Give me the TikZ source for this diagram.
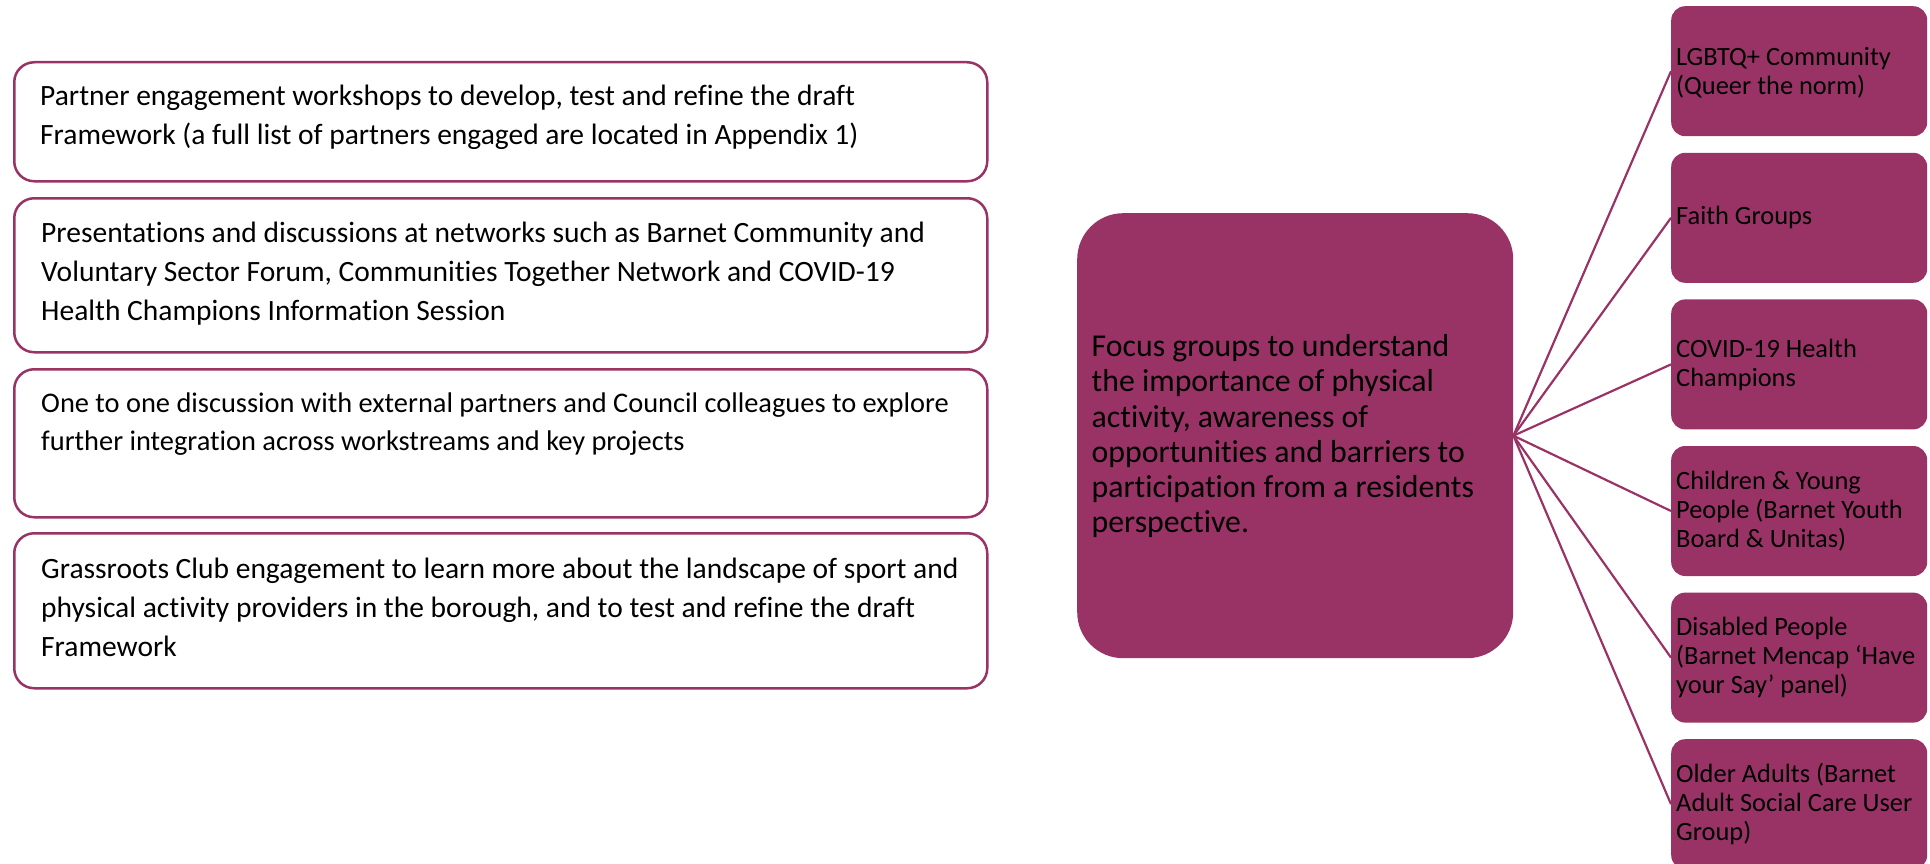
\documentclass[tikz,border=0pt]{standalone}
\usepackage{fontspec}
\setmainfont{Carlito}[Ligatures={NoCommon}]
\usetikzlibrary{calc}
\definecolor{plum}{RGB}{153,51,102}
\newcommand\natsp{\spaceskip=0pt\xspaceskip=0pt\relax}
\begin{document}
\begin{tikzpicture}[x=1pt,y=-1pt,
  lbox/.style={draw=plum, line width=2.5pt, rounded corners=20pt, fill=white, inner sep=0pt, anchor=north west, minimum width=973pt},
  ltext/.style={font=\fontsize{#1}{39}\selectfont, text width=965pt, align=left, inner sep=0pt, anchor=base west, execute at begin node=\natsp},
  ltext/.default=29.5,
  cbox/.style={fill=plum, rounded corners=46pt, inner sep=0pt, anchor=north west, minimum width=436pt, minimum height=445pt},
  ctext/.style={font=\fontsize{31.8}{35.2}\selectfont, text width=430pt, align=left, inner sep=0pt, anchor=base west, execute at begin node=\natsp},
  rbox/.style={fill=plum, rounded corners=14pt, inner sep=0pt, anchor=north west, minimum width=256pt, minimum height=130pt},
  rtext/.style={font=\fontsize{26.4}{29}\selectfont, text width=300pt, align=left, inner sep=0pt, anchor=base west, execute at begin node=\natsp},
  conn/.style={draw=plum, line width=2.2pt}]
\useasboundingbox (0,0) rectangle (1930,864);
\clip (0,0) rectangle (1930,864);

% left boxes
\node[lbox, minimum height=119pt] (b1) at (13,61) {};
\node[ltext=29.5] (t1) at ($(b1.north west)+(27,45)$) {\natsp Partner engagement workshops to develop, test and refine the draft\\[-0.7pt]Framework (a full list of partners engaged are located in Appendix 1)};

\node[lbox, minimum height=154pt] (b2) at (13,197) {};
\node[ltext=29.5] (t2) at ($(b2.north west)+(28,45.3)$) {\natsp Presentations and discussions at networks such as Barnet Community and\\Voluntary Sector Forum, Communities Together Network and COVID-19\\Health Champions Information Session};

\node[lbox, minimum height=148pt] (b3) at (13,368) {};
\node[ltext=28.4] (t3) at ($(b3.north west)+(28,44)$) {\natsp One to one discussion with external partners and Council colleagues to explore\\[-0.3pt]further integration across workstreams and key projects};

\node[lbox, minimum height=155pt] (b4) at (13,532) {};
\node[ltext=29.5] (t4) at ($(b4.north west)+(28,46.3)$) {\natsp Grassroots Club engagement to learn more about the landscape of sport and\\physical activity providers in the borough, and to test and refine the draft\\Framework};

% centre box
\node[cbox] (c) at (1077,213) {};
\node[ctext] (ct) at ($(c.north west)+(14.5,143.7)$) {\natsp Focus groups to understand\\the importance of physical\\activity, awareness of\\opportunities and barriers to\\participation from a residents\\perspective.};

% right boxes
\node[rbox] (r1) at (1671,6) {};
\node[rbox] (r2) at (1671,152.6) {};
\node[rbox] (r3) at (1671,299.2) {};
\node[rbox] (r4) at (1671,445.8) {};
\node[rbox] (r5) at (1671,592.4) {};
\node[rbox] (r6) at (1671,739) {};

\node[rtext] (s1) at ($(r1.west)+(5,-6)$) {\natsp LGBTQ+ Community\\(Queer the norm)};
\node[rtext] (s2) at ($(r2.west)+(5,7)$) {\natsp Faith Groups};
\node[rtext] (s3) at ($(r3.west)+(5,-7)$) {\natsp COVID-19 Health\\Champions};
\node[rtext] (s4) at ($(r4.west)+(5,-22)$) {\natsp Children \& Young\\People (Barnet Youth\\Board \& Unitas)};
\node[rtext] (s5) at ($(r5.west)+(5,-22)$) {\natsp Disabled People\\(Barnet Mencap ‘Have\\your Say’ panel)};
\node[rtext] (s6) at ($(r6.west)+(5,-22)$) {\natsp Older Adults (Barnet\\Adult Social Care User\\Group)};

% connectors
\foreach \i in {1,...,6} {\draw[conn] (c.east) -- (r\i.west);}
\end{tikzpicture}
\end{document}
